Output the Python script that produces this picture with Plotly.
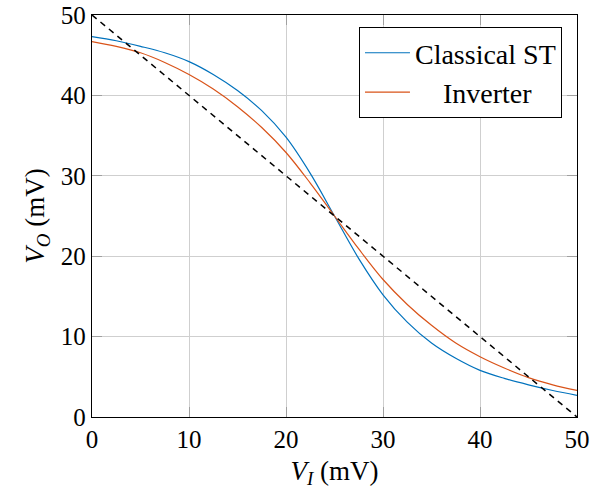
import plotly.graph_objects as go

# Input voltage samples (mV)
v_in = [0, 2.5, 5, 7.5, 10, 12.5, 15, 17.5, 20, 22.5, 25,
        27.5, 30, 32.5, 35, 37.5, 40, 42.5, 45, 47.5, 50]

# Output voltage of the classical Schmitt-trigger stage (mV)
v_out_classical = [47.3, 46.8, 46.1, 45.3, 44.2, 42.6, 40.6, 38.1, 34.8, 30.3, 25.0,
                   19.7, 15.2, 11.8, 9.2, 7.3, 5.8, 4.8, 4.0, 3.3, 2.7]

# Output voltage of the plain inverter (mV)
v_out_inverter = [46.7, 46.1, 45.3, 44.1, 42.6, 40.8, 38.6, 36.0, 32.9, 29.1, 25.0,
                  20.9, 17.1, 14.0, 11.4, 9.2, 7.5, 6.1, 4.9, 4.0, 3.3]

# Ideal unity-gain reference line V_O = 50 - V_I
ref_x = [0, 50]
ref_y = [50, 0]

ticks = [0, 10, 20, 30, 40, 50]

FONT = "Liberation Serif, Times New Roman, serif"
fig = go.Figure()

fig.add_trace(go.Scatter(
    x=v_in, y=v_out_classical, mode="lines", name="Classical ST",
    line=dict(color="#0072BD", width=1.2, shape="spline", smoothing=1.0),
))
fig.add_trace(go.Scatter(
    x=v_in, y=v_out_inverter, mode="lines",
    name="&nbsp;&nbsp;&nbsp;&nbsp;Inverter",
    line=dict(color="#D95319", width=1.2, shape="spline", smoothing=1.0),
))
fig.add_trace(go.Scatter(
    x=ref_x, y=ref_y, mode="lines", showlegend=False,
    line=dict(color="black", width=1.5, dash="6px,5px"),
))

axis_common = dict(
    range=[0, 50], tickvals=ticks, ticktext=[str(t) for t in ticks],
    showgrid=True, gridcolor="#cfcfcf", gridwidth=1,
    showline=True, linecolor="black", linewidth=1.3, mirror="ticks",
    ticks="inside", ticklen=10, tickcolor="#a0a0a0", tickwidth=1.2,
    zeroline=False, automargin=False,
    tickfont=dict(family=FONT, size=25, color="black"),
)

fig.update_xaxes(
    **axis_common,
    title=dict(text="<i>V</i><sub><i>I</i></sub> (mV)",
               font=dict(family=FONT, size=27, color="black"), standoff=8),
)
fig.update_yaxes(
    **axis_common,
    title=dict(text="<i>V</i><sub><i>O</i></sub> (mV)",
               font=dict(family=FONT, size=27, color="black"), standoff=8),
)

fig.update_layout(
    width=592, height=494,
    margin=dict(l=92, r=15, t=15, b=77),
    font=dict(family=FONT, size=25, color="black"),
    plot_bgcolor="white", paper_bgcolor="white",
    legend=dict(
        x=0.969, y=0.970, xanchor="right", yanchor="top",
        bgcolor="white", bordercolor="black", borderwidth=1,
        font=dict(family=FONT, size=28, color="black"),
        tracegroupgap=0, itemwidth=45,
    ),
)

fig.write_html("out.html")
